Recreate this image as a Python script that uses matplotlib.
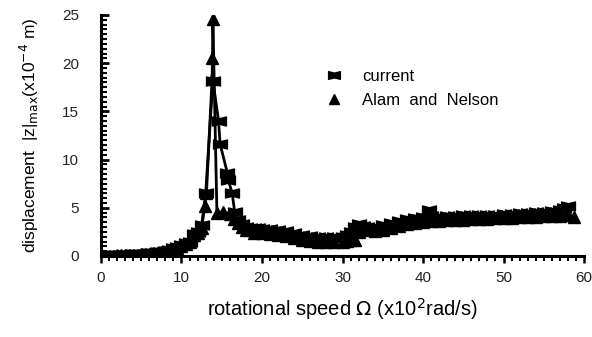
import matplotlib
matplotlib.use("Agg")
import matplotlib.pyplot as plt
from matplotlib.path import Path
from matplotlib.ticker import MultipleLocator

plt.rcParams['font.family'] = ['Liberation Sans', 'DejaVu Sans']

# ---- data ----
x_current = [1, 1.5, 2, 2.5, 3, 3.5, 4, 4.5, 5, 5.5, 6, 6.5, 7, 7.5, 8, 8.5, 9, 9.5, 10, 10.5,
             11, 11.5, 12, 12.5, 13.0, 13.9, 14.6, 14.8, 15.7, 15.8, 16.3, 16.6, 17, 17.5, 18, 18.5,
             19, 19.5, 20, 21, 22, 23, 24, 25, 26, 27, 28, 29, 30, 30.5, 31, 31.5, 32, 32.5,
             33, 34, 35, 36, 37, 38, 39, 40, 40.7, 41, 42, 43, 44, 45, 46, 47, 48, 49, 50,
             51, 52, 53, 54, 55, 56, 57, 57.5, 58]
y_current = [0.1, 0.1, 0.15, 0.1, 0.15, 0.15, 0.2, 0.2, 0.2, 0.25, 0.3, 0.35, 0.4, 0.45, 0.55, 0.65,
             0.8, 0.95, 1.1, 1.3, 1.5, 2.3, 2.5, 3.2, 6.5, 18.2, 14.0, 11.6, 8.6, 7.9, 6.5, 4.6, 3.7,
             3.3, 3.0, 2.9, 2.9, 2.9, 2.8, 2.8, 2.7, 2.6, 2.4, 2.2, 2.1, 2.0, 2.0, 2.0, 2.0, 2.2,
             2.5, 3.0, 3.3, 3.1, 3.0, 3.0, 3.2, 3.4, 3.6, 3.8, 3.9, 4.0, 4.8, 4.1, 4.0, 4.1, 4.1,
             4.2, 4.2, 4.3, 4.3, 4.3, 4.4, 4.4, 4.5, 4.5, 4.6, 4.6, 4.7, 4.8, 5.0, 5.2]

x_alam = [1, 1.5, 2, 2.5, 3, 3.5, 4, 4.5, 5, 5.5, 6, 6.5, 7, 7.5, 8, 8.5, 9, 9.5, 10, 10.5,
          11, 11.5, 12, 12.5, 12.9, 13.1, 13.8, 13.85, 13.9, 14.4, 15.2, 16, 16.5, 17, 17.5, 18,
          19, 20, 21, 22, 23, 24, 25, 26, 27, 28, 29, 30, 30.5, 31, 31.5, 32, 32.5, 33, 34,
          35, 36, 37, 38, 39, 40, 41, 42, 43, 44, 45, 46, 47, 48, 49, 50, 51, 52, 53, 54,
          55, 56, 57, 58, 58.7]
y_alam = [0.05, 0.05, 0.1, 0.1, 0.1, 0.1, 0.15, 0.15, 0.2, 0.2, 0.25, 0.3, 0.35, 0.4, 0.45, 0.55,
          0.7, 0.85, 1.0, 1.2, 1.4, 2.2, 2.4, 2.9, 5.2, 6.5, 18.4, 20.5, 24.6, 4.5, 4.6, 4.4, 3.8,
          3.4, 3.0, 2.7, 2.4, 2.4, 2.3, 2.2, 2.1, 1.9, 1.7, 1.6, 1.5, 1.5, 1.5, 1.5, 1.6, 1.7,
          1.7, 2.5, 2.9, 2.7, 2.6, 2.7, 2.9, 3.1, 3.3, 3.4, 3.5, 3.6, 3.6, 3.7, 3.7, 3.7, 3.8,
          3.8, 3.8, 3.9, 3.9, 3.9, 4.0, 4.0, 4.0, 4.1, 4.1, 4.1, 4.2, 4.0]

x_ticks = [0, 10, 20, 30, 40, 50, 60]
y_ticks = [0, 5, 10, 15, 20, 25]

# bow-tie marker for "current" (rectangle with small notches top and bottom)
bowtie = Path([(-1, -0.65), (0, -0.4), (1, -0.65), (1, 0.65), (0, 0.4), (-1, 0.65), (-1, -0.65)],
              [Path.MOVETO, Path.LINETO, Path.LINETO, Path.LINETO, Path.LINETO, Path.LINETO,
               Path.CLOSEPOLY])

fig = plt.figure(figsize=(5.92, 3.37), dpi=100)
ax = fig.add_axes([0.1706, 0.2404, 0.8159, 0.7151])

ax.plot(x_current, y_current, color='black', lw=2.0, marker=bowtie, ms=10,
        mfc='black', mec='black', label='current')
ax.plot(x_alam, y_alam, color='black', lw=2.0, marker='^', ms=9,
        mfc='black', mec='black', label='Alam  and  Nelson')

ax.set_xlim(0, 60)
ax.set_ylim(0, 25)
ax.set_xticks(x_ticks)
ax.set_yticks(y_ticks)
ax.xaxis.set_minor_locator(MultipleLocator(1))
ax.yaxis.set_minor_locator(MultipleLocator(0.5))

for s in ['top', 'right']:
    ax.spines[s].set_visible(False)
for s in ['left', 'bottom']:
    ax.spines[s].set_linewidth(2.2)

ax.tick_params(axis='y', which='major', direction='in', length=6, width=2, labelsize=11,
               pad=16, labelcolor='#222222')
ax.tick_params(axis='y', which='minor', direction='in', length=4, width=1.5)
ax.tick_params(axis='x', which='major', direction='out', length=5, width=1.8, labelsize=11,
               pad=6, labelcolor='#222222')
ax.tick_params(axis='x', which='minor', direction='out', length=3.5, width=1.5)

ax.set_xlabel(r'rotational speed $\Omega$ (x10$^{2}$rad/s)', fontsize=14.5, labelpad=8)
ax.set_ylabel(r'displacement  |z|$_{\rm max}$(x10$^{-4}$ m)', fontsize=12.5, labelpad=15)

ax.legend(loc='upper left', bbox_to_anchor=(0.43, 0.84), frameon=False, fontsize=12,
          handlelength=1.2, handletextpad=1.1, labelspacing=0.55, markerscale=0.85)
leg = ax.get_legend()
for h in leg.get_lines():
    h.set_linestyle('none')

fig.savefig('out.png', dpi=100)
